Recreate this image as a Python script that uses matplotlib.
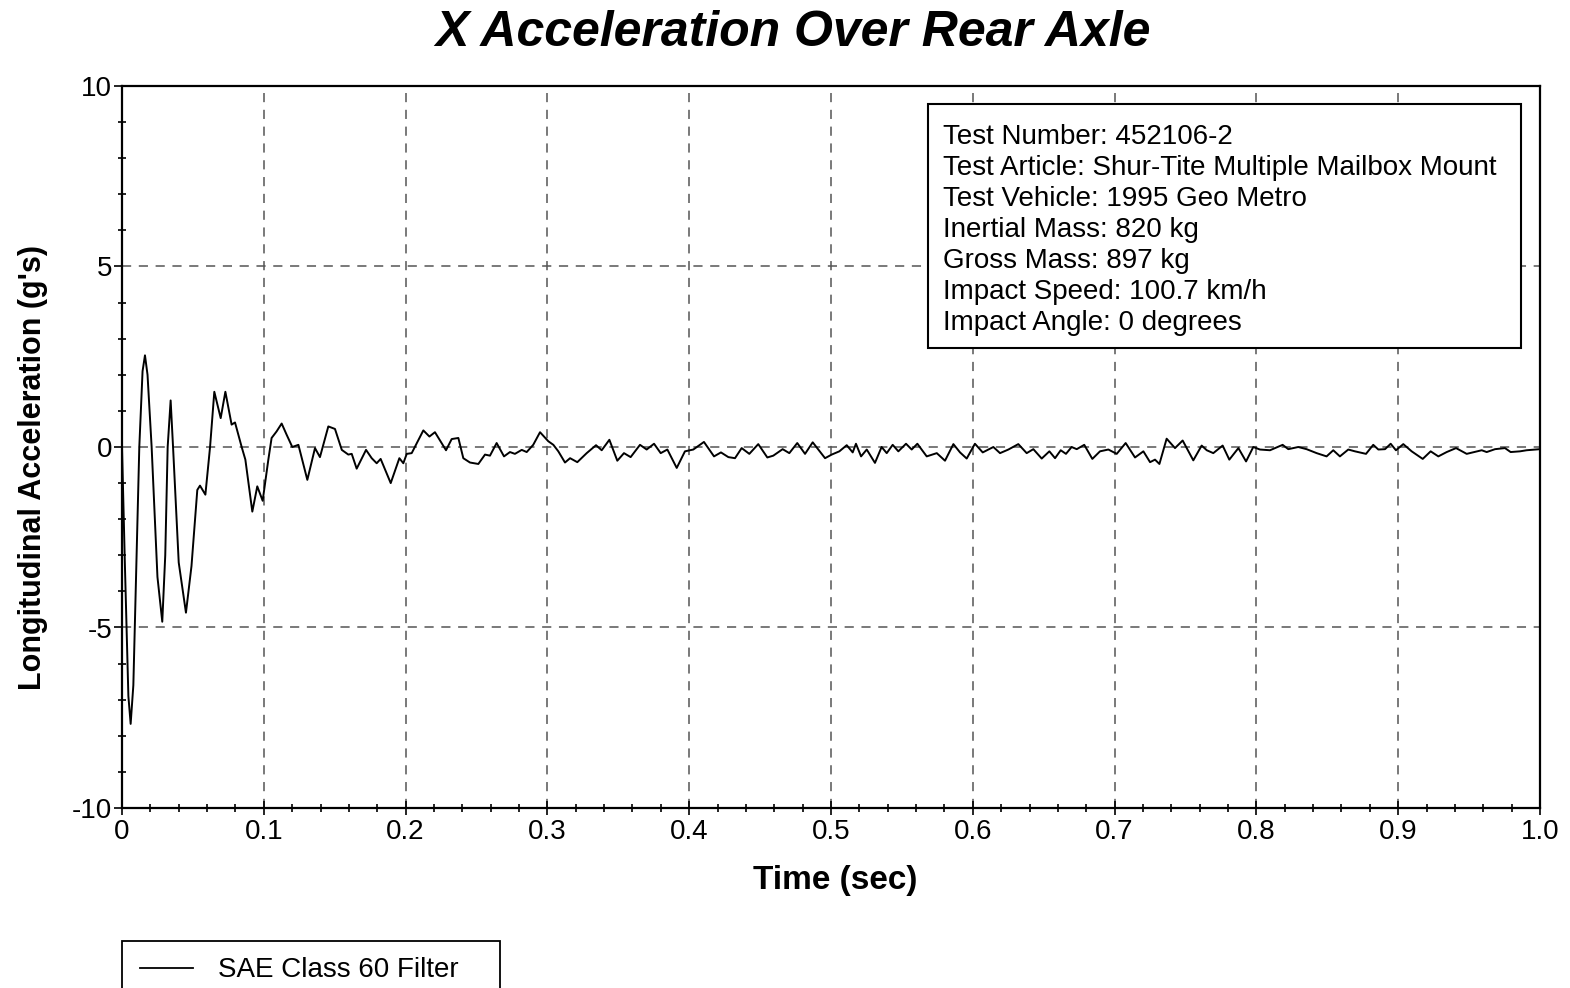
import matplotlib.pyplot as plt
from matplotlib.patches import Rectangle
from matplotlib.lines import Line2D
from matplotlib.ticker import MultipleLocator

plt.rcParams['font.family'] = ['Liberation Sans', 'DejaVu Sans']
plt.rcParams['axes.unicode_minus'] = False

# time (s) and acceleration (g)
time_s = [
    0.0, 0.002, 0.0045, 0.0061, 0.008, 0.0122, 0.0145, 0.0162, 0.018, 0.0209,
    0.025, 0.0284, 0.0305, 0.0322, 0.0343, 0.036, 0.040, 0.0451, 0.049, 0.0531,
    0.0550, 0.0588, 0.0621, 0.0651, 0.0696, 0.0729, 0.0773, 0.0797, 0.0844, 0.087,
    0.0919, 0.0954, 0.0992, 0.1032, 0.1055, 0.109, 0.1126, 0.1161, 0.1201, 0.1244,
    0.1307, 0.1361, 0.1396, 0.1455, 0.1502, 0.155, 0.1596, 0.162, 0.1655, 0.1721,
    0.1761, 0.1796, 0.1824, 0.1895, 0.1956, 0.1984, 0.2008, 0.2043, 0.2125, 0.2168,
    0.2207, 0.2285, 0.2325, 0.2372, 0.2407, 0.2454, 0.2513, 0.256, 0.2595, 0.2642,
    0.2694, 0.2736, 0.2771, 0.2819, 0.2854, 0.29, 0.2948, 0.3006, 0.3042, 0.3077,
    0.3124, 0.316, 0.3211, 0.3277, 0.3343, 0.3383, 0.3437, 0.3493, 0.354, 0.3587,
    0.3653, 0.37, 0.3752, 0.3799, 0.3846, 0.3912, 0.397, 0.4029, 0.4104, 0.4175,
    0.4224, 0.4276, 0.4323, 0.437, 0.4424, 0.4487, 0.4551, 0.4593, 0.4659, 0.4706,
    0.4762, 0.4817, 0.4871, 0.4958, 0.5005, 0.5059, 0.5111, 0.5153, 0.5176, 0.5212,
    0.5252, 0.531, 0.5357, 0.5393, 0.5435, 0.5475, 0.5529, 0.5569, 0.5609, 0.5675,
    0.5746, 0.5804, 0.5863, 0.591, 0.5957, 0.6015, 0.607, 0.6145, 0.6192, 0.6251,
    0.6321, 0.638, 0.6427, 0.6486, 0.654, 0.658, 0.662, 0.6657, 0.6697, 0.6733,
    0.6786, 0.6843, 0.6897, 0.6956, 0.7015, 0.7078, 0.7144, 0.7203, 0.725, 0.7285,
    0.7316, 0.7367, 0.7426, 0.748, 0.7555, 0.7614, 0.765, 0.7696, 0.7762, 0.7809,
    0.7873, 0.7927, 0.7978, 0.8025, 0.8096, 0.8185, 0.8225, 0.8295, 0.8354, 0.8425,
    0.8495, 0.8542, 0.8589, 0.8648, 0.8695, 0.8773, 0.8824, 0.886, 0.8907, 0.8947,
    0.8984, 0.9036, 0.9095, 0.9173, 0.9229, 0.9283, 0.9342, 0.9408, 0.9483, 0.9589,
    0.9624, 0.9683, 0.9753, 0.9793, 0.9859, 0.9906, 1.0,
]
accel_g = [
    0.0, -3.2, -6.9, -7.67, -6.6, 0.0, 2.1, 2.54, 2.0, 0.0,
    -3.6, -4.84, -3.0, 0.0, 1.29, 0.0, -3.2, -4.59, -3.3, -1.19,
    -1.07, -1.32, 0.0, 1.53, 0.8, 1.53, 0.62, 0.68, 0.0, -0.35,
    -1.79, -1.09, -1.49, -0.35, 0.25, 0.43, 0.65, 0.34, 0.0, 0.06,
    -0.91, -0.03, -0.28, 0.57, 0.5, -0.08, -0.21, -0.19, -0.6, -0.08,
    -0.31, -0.45, -0.33, -1.0, -0.31, -0.45, -0.19, -0.17, 0.46, 0.29,
    0.41, -0.09, 0.22, 0.25, -0.31, -0.43, -0.47, -0.21, -0.24, 0.11,
    -0.26, -0.14, -0.19, -0.08, -0.14, 0.06, 0.41, 0.16, 0.06, -0.12,
    -0.43, -0.31, -0.42, -0.17, 0.05, -0.09, 0.2, -0.38, -0.17, -0.28,
    0.06, -0.07, 0.09, -0.17, -0.07, -0.58, -0.12, -0.07, 0.14, -0.26,
    -0.15, -0.28, -0.31, -0.03, -0.19, 0.08, -0.29, -0.24, -0.06, -0.17,
    0.11, -0.19, 0.13, -0.31, -0.21, -0.12, 0.05, -0.15, 0.09, -0.26,
    -0.07, -0.44, 0.0, -0.17, 0.06, -0.12, 0.09, -0.07, 0.09, -0.26,
    -0.17, -0.38, 0.08, -0.15, -0.32, 0.09, -0.15, 0.0, -0.17, -0.07,
    0.08, -0.17, -0.06, -0.32, -0.12, -0.31, -0.09, -0.19, 0.0, -0.06,
    0.06, -0.33, -0.12, -0.07, -0.19, 0.11, -0.29, -0.12, -0.42, -0.35,
    -0.47, 0.23, -0.03, 0.18, -0.37, 0.04, -0.09, -0.17, 0.04, -0.35,
    -0.03, -0.4, 0.0, -0.07, -0.09, 0.06, -0.06, 0.0, -0.06, -0.17,
    -0.26, -0.09, -0.26, -0.07, -0.12, -0.19, 0.06, -0.07, -0.06, 0.09,
    -0.09, 0.08, -0.12, -0.33, -0.12, -0.26, -0.14, -0.03, -0.19, -0.09,
    -0.14, -0.06, -0.03, -0.14, -0.12, -0.09, -0.06,
]

info_lines = [
    'Test Number: 452106-2',
    'Test Article: Shur-Tite Multiple Mailbox Mount',
    'Test Vehicle: 1995 Geo Metro',
    'Inertial Mass: 820 kg',
    'Gross Mass: 897 kg',
    'Impact Speed: 100.7 km/h',
    'Impact Angle: 0 degrees',
]
series_label = 'SAE Class 60 Filter'

W, H = 1570, 988
fig = plt.figure(figsize=(W / 100, H / 100), dpi=100)
ax = fig.add_axes([122 / W, 1 - 808 / H, 1418 / W, 722 / H])

ax.plot(time_s, accel_g, color='k', lw=1.4)

ax.set_xlim(0, 1.0)
ax.set_ylim(-10, 10)

ax.xaxis.set_major_locator(MultipleLocator(0.1))
ax.xaxis.set_minor_locator(MultipleLocator(0.02))
ax.yaxis.set_major_locator(MultipleLocator(5))
ax.yaxis.set_minor_locator(MultipleLocator(1))
ax.grid(True, which='major', ls=(0, (6, 5)), color='#555555', lw=1.1)

xt = [round(0.1 * i, 1) for i in range(11)]
ax.set_xticks(xt)
ax.set_xticklabels(['0'] + ['%.1f' % v for v in xt[1:]])

ax.tick_params(which='major', labelsize=20)
ax.tick_params(which='minor', direction='inout', length=6, width=1.2)
ax.tick_params(axis='x', which='major', direction='inout', length=10, width=1.2, pad=3)
ax.tick_params(axis='y', which='major', direction='out', length=6, width=1.2, pad=1)

for s in ax.spines.values():
    s.set_linewidth(1.6)

ax.set_xlabel('Time (sec)', fontsize=24, fontweight='bold')
ax.xaxis.set_label_coords((835 - 122) / 1418, (808 - 865) / 722)
ax.set_ylabel("Longitudinal Acceleration (g's)", fontsize=22, fontweight='bold')
ax.yaxis.set_label_coords((48 - 122) / 1418, (808 - 468) / 722)

fig.text(793 / W, 1 - 33 / H, 'X Acceleration Over Rear Axle', fontsize=36,
         fontweight='bold', fontstyle='italic', ha='center', va='center')

# info box
ax.add_patch(Rectangle(((928 - 122) / 1418, (808 - 348) / 722), (1521 - 928) / 1418,
                       (348 - 104) / 722, transform=ax.transAxes, fc='white',
                       ec='k', lw=1.5, zorder=4))
ax.text((943 - 122) / 1418, (808 - 124) / 722, '\n'.join(info_lines),
        transform=ax.transAxes, fontsize=20, va='top', ha='left',
        linespacing=1.25, zorder=5)

# legend box below the plot, cut by the page edge
fig.patches.append(Rectangle((122 / W, 1 - 1000 / H), (500 - 122) / W, 59 / H,
                             transform=fig.transFigure, fc='none', ec='k', lw=1.3))
fig.lines.append(Line2D([140 / W, 193 / W], [1 - 968 / H, 1 - 968 / H],
                        transform=fig.transFigure, color='k', lw=1.3))
fig.text(218 / W, 1 - 970 / H, series_label, fontsize=20, va='center', ha='left')

plt.savefig('out.png', dpi=100)
